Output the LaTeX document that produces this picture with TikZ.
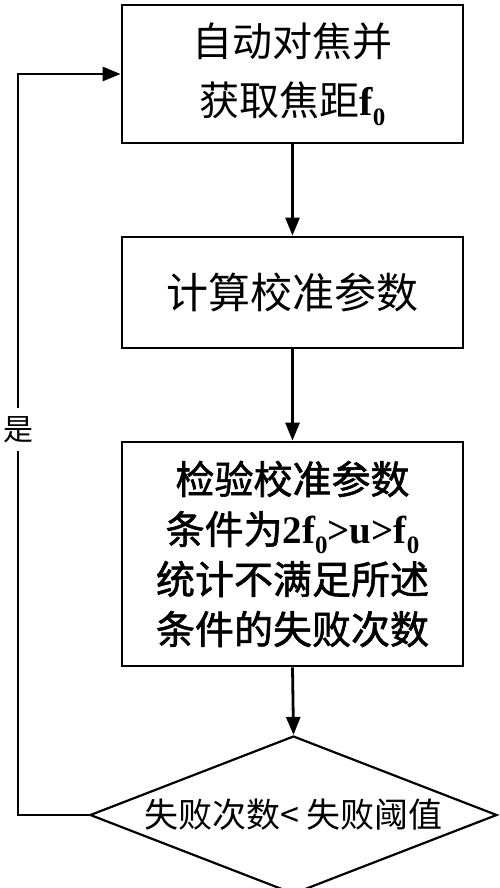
\documentclass[tikz,border=0pt]{standalone}
\usepackage{fontspec}
\setmainfont{Liberation Serif}
\newfontfamily\cjk{Noto Sans CJK SC}
\newfontfamily\cjkb[FakeBold=1.5]{Noto Sans CJK SC}
\usetikzlibrary{arrows.meta,shapes.geometric}
\newcommand\fz{{\rmfamily\bfseries f\raisebox{-0.25em}{\fontsize{25}{25}\selectfont 0}}}
\newcommand\lat[1]{{\rmfamily\bfseries #1}}
\tikzset{
  box/.style={draw, line width=2.8pt, minimum width=341pt, inner sep=0pt, align=center},
  arr/.style={line width=2.8pt, -{Triangle[length=18pt,width=14pt]}},
  dec/.style={draw, diamond, line width=2.2pt, aspect=2.576, minimum width=407pt, minimum height=158pt, inner sep=0pt},
}
\begin{document}
\begin{tikzpicture}[x=1pt,y=-1pt]
\useasboundingbox[fill=white] (0,0) rectangle (500,888);
\node[box, minimum height=138pt, font={\cjk\fontsize{40}{59}\selectfont}] (b1) at (292.5,74) {自动对焦并\\获取焦距\fz};
\node[box, minimum height=111pt, font={\cjk\fontsize{42}{50}\selectfont}] (b2) at (292.5,292.5) {计算校准参数};
\node[box, minimum height=224pt, font={\cjkb\fontsize{39}{50}\selectfont}] (b3) at (292.5,554) {检验校准参数\\条件为\lat{2}\fz\lat{>u>}\fz\\统计不满足所述\\条件的失败次数};
\node[dec, font={\cjk\fontsize{34}{40}\selectfont}] (d) at (293.5,815) {失败次数< 失败阈值};
\coordinate (c1) at (18,815);
\coordinate (c2) at (18,74);
\draw[arr] (b1.south) -- (b2.north);
\draw[arr] (b2.south) -- (b3.north);
\draw[arr] (b3.south) -- (d.north);
\draw[arr] (d.west) -- (c1) -- node[pos=0.52, fill=white, inner ysep=8pt, inner xsep=2pt, font={\cjk\fontsize{30}{30}\selectfont}] (yes) {是} (c2) -- (b1.west);
\end{tikzpicture}
\end{document}
